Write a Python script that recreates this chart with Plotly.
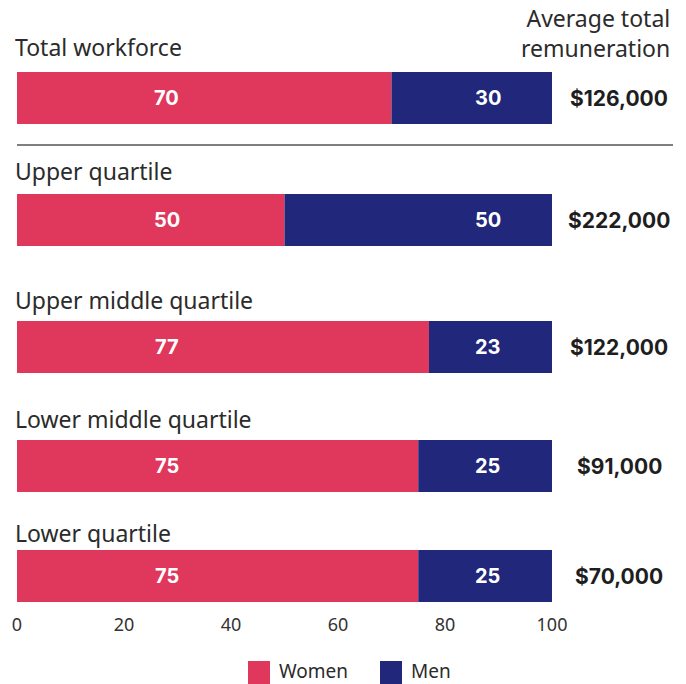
import plotly.graph_objects as go

categories = ["Total workforce", "Upper quartile", "Upper middle quartile",
              "Lower middle quartile", "Lower quartile"]
women = [70, 50, 77, 75, 75]
men = [30, 50, 23, 25, 25]
remuneration = ["$126,000", "$222,000", "$122,000", "$91,000", "$70,000"]
x_ticks = [0, 20, 40, 60, 80, 100]

# layout positions (pixels from top)
row_pos = [98, 220, 347, 466, 576]     # bar centres
label_pos = [47, 171, 300, 419, 533]   # category title centres

PINK = "#E0375C"
NAVY = "#21277A"
TXT = "#2B2B2B"
FONT = "Noto Sans"

W, H = 686, 684
L, R, T, B = 17, 134, 0, 79
PW, PH = W - L - R, H - T - B


def px(x):
    return (x - L) / PW


def py(y):
    return (H - B - y) / PH


fig = go.Figure()
fig.add_trace(go.Bar(y=row_pos, x=women, orientation="h", name="Women",
                     marker=dict(color=PINK, line=dict(width=0)), width=52,
                     hoverinfo="x"))
fig.add_trace(go.Bar(y=row_pos, x=men, orientation="h", name="Men",
                     marker=dict(color=NAVY, line=dict(width=0)), width=52,
                     base=women, hoverinfo="x"))

ann = []
for cat, w, m, r, y, ly in zip(categories, women, men, remuneration, row_pos, label_pos):
    ann.append(dict(x=0, y=ly, xref="x", yref="y", text=cat, showarrow=False,
                    xanchor="left", yanchor="middle", xshift=-4,
                    font=dict(family=FONT, size=23, color=TXT)))
    ann.append(dict(x=28, y=y, xref="x", yref="y", text=f"<b>{w}</b>", showarrow=False,
                    xanchor="center", yanchor="middle",
                    font=dict(family="Inter", size=20, color="white")))
    ann.append(dict(x=88, y=y, xref="x", yref="y", text=f"<b>{m}</b>", showarrow=False,
                    xanchor="center", yanchor="middle",
                    font=dict(family="Inter", size=20, color="white")))
    ann.append(dict(x=px(619), y=py(y), xref="paper", yref="paper", text=f"<b>{r}</b>",
                    showarrow=False, xanchor="center", yanchor="middle",
                    font=dict(family="Inter", size=21, color="#1E1E1E")))

ann.append(dict(x=px(672), y=py(33), xref="paper", yref="paper",
                text="Average total<br>remuneration", showarrow=False, align="right",
                xanchor="right", yanchor="middle",
                font=dict(family=FONT, size=23, color=TXT)))

# legend (drawn manually)
legend_items = [("Women", PINK, 248), ("Men", NAVY, 380)]
shapes = [dict(type="line", xref="paper", yref="paper", x0=px(17), x1=px(673),
               y0=py(145), y1=py(145), line=dict(color="#555555", width=1.3))]
for name, col, lx in legend_items:
    shapes.append(dict(type="rect", xref="paper", yref="paper",
                       x0=px(lx), x1=px(lx + 22), y0=py(684), y1=py(661),
                       fillcolor=col, line=dict(width=0)))
    ann.append(dict(x=px(lx + 29), y=py(671), xref="paper", yref="paper",
                    text=name, showarrow=False, xanchor="left", yanchor="middle",
                    font=dict(family=FONT, size=19, color=TXT)))

fig.update_layout(
    width=W, height=H,
    margin=dict(l=L, r=R, t=T, b=B, pad=0),
    barmode="overlay",
    plot_bgcolor="white", paper_bgcolor="white",
    showlegend=False,
    annotations=ann, shapes=shapes,
    xaxis=dict(range=[0, 100], tickvals=x_ticks, showgrid=False, zeroline=False,
               showline=False, ticks="outside", ticklen=3, tickcolor="white",
               tickfont=dict(family=FONT, size=18, color="#333333")),
    yaxis=dict(range=[H - B, 0], visible=False, showgrid=False, zeroline=False),
)

fig.write_html("out.html")
